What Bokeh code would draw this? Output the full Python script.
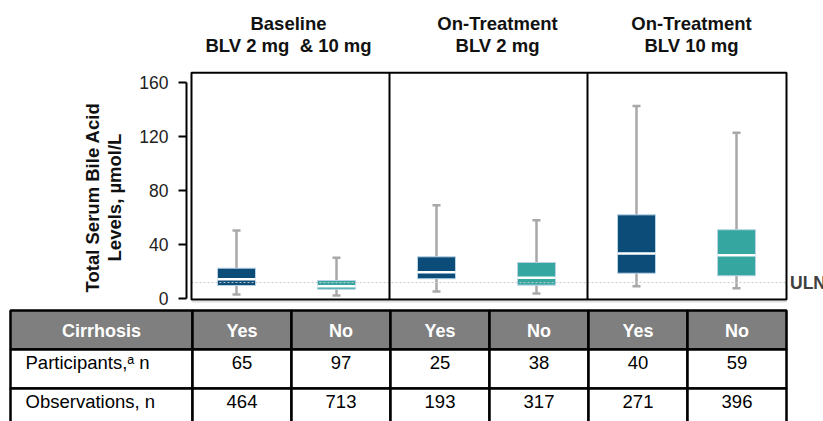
import math
from bokeh.plotting import figure
from bokeh.models import Range1d, LinearAxis, FixedTicker, ColumnDataSource
from bokeh.embed import file_html
from bokeh.resources import INLINE
from bokeh.core.properties import value

# ---------------- data ----------------
header_line1 = ["Baseline", "On-Treatment", "On-Treatment"]
header_line2 = ["BLV 2 mg\u00a0 & 10 mg", "BLV 2 mg", "BLV 10 mg"]
y_label_lines = ["Total Serum Bile Acid", "Levels, \u00b5mol/L"]
cirrhosis = ["Yes", "No", "Yes", "No", "Yes", "No"]
participants = [65, 97, 25, 38, 40, 59]
observations = [464, 713, 193, 317, 271, 396]
row_labels = ["Participants,\u1d43 n", "Observations, n"]
whisker_low = [3.2, 2.4, 5.4, 3.9, 9.3, 7.8]
q1 = [9.8, 7.1, 14.8, 10.1, 18.9, 17.0]
median = [14.5, 9.3, 19.7, 15.5, 33.5, 32.2]
q3 = [22.6, 13.5, 31.0, 26.8, 62.0, 51.0]
whisker_high = [50.4, 30.3, 69.1, 58.1, 142.3, 122.6]
uln = 12
y_ticks = [0, 40, 80, 120, 160]

# ---------------- style ----------------
FONT = "Liberation Sans"
COLOR = {"Yes": "#0b4c79", "No": "#35a7a0"}
WHISKER = "#a8a8a8"
BOX_W = 0.38
CAP_W = 0.08
panel_edges = [-0.45, 1.53, 3.51, 5.5]
panel_top = 167
panel_bottom = -0.5
header_x = [0.52, 2.61, 4.55]

x = list(range(len(cirrhosis)))
src = ColumnDataSource(dict(
    x=x,
    xl=[v - BOX_W / 2 for v in x], xr=[v + BOX_W / 2 for v in x],
    cl=[v - CAP_W / 2 for v in x], cr=[v + CAP_W / 2 for v in x],
    lo=whisker_low, q1=q1, med=median, q3=q3, hi=whisker_high,
    color=[COLOR[c] for c in cirrhosis],
))

p = figure(width=823, height=421, x_range=Range1d(-0.5, 5.87), y_range=Range1d(-2.73, 220.3),
           output_backend="svg", toolbar_location=None,
           x_axis_location=None, y_axis_location=None,
           min_border_left=186, min_border_right=0, min_border_top=0, min_border_bottom=119)
p.grid.visible = False
p.outline_line_color = None
p.background_fill_color = "white"
p.border_fill_color = "white"
# row units for the table below the chart (row r spans r..r+1, increasing downward)
p.extra_y_ranges = {"table": Range1d(-0.205, -7.949)}

yaxis = LinearAxis(ticker=FixedTicker(ticks=y_ticks), bounds=(0, 160))
yaxis.axis_line_width = 2
yaxis.axis_line_color = "black"
yaxis.major_tick_line_width = 2
yaxis.major_tick_line_color = "black"
yaxis.major_tick_out = 8
yaxis.major_tick_in = 0
yaxis.minor_tick_line_color = None
yaxis.major_label_standoff = 10
yaxis.major_label_text_font = FONT
yaxis.major_label_text_font_size = "17.5px"
yaxis.major_label_text_color = "#222222"
p.add_layout(yaxis, "left")

# y-axis title (two lines, rotated)
p.text(x=[-1.443, -1.225], y=[74.8, 74.8], text=y_label_lines, angle=math.pi / 2,
       text_align="center", text_baseline="middle", text_font=value(FONT),
       text_font_size="18.5px", text_font_style="bold", text_color="#111111", level="overlay")

# whiskers
p.segment(x0="x", y0="lo", x1="x", y1="q1", source=src, line_color=WHISKER, line_width=2.5)
p.segment(x0="x", y0="q3", x1="x", y1="hi", source=src, line_color=WHISKER, line_width=2.5)
p.segment(x0="cl", y0="hi", x1="cr", y1="hi", source=src, line_color=WHISKER, line_width=2.5)
p.segment(x0="cl", y0="lo", x1="cr", y1="lo", source=src, line_color=WHISKER, line_width=2.5)
# boxes
p.quad(left="xl", right="xr", bottom="q1", top="q3", source=src, fill_color="color",
       line_color="#b9d3e4", line_width=1)
p.segment(x0="xl", y0="med", x1="xr", y1="med", source=src, line_color="white", line_width=2.5)

# ULN reference line
p.segment(x0=[panel_edges[0]], y0=[uln], x1=[panel_edges[-1]], y1=[uln],
          line_color="#c8c8c8", line_width=1, line_dash="2 2")
p.text(x=[panel_edges[-1] + 0.035], y=[uln], text=["ULN"], text_align="left", text_baseline="middle",
       text_font=value(FONT), text_font_size="17.5px", text_font_style="bold", text_color="#404040")

# panel frames
p.quad(left=[panel_edges[0]], right=[panel_edges[-1]], bottom=[panel_bottom], top=[panel_top],
       fill_color=None, line_color="black", line_width=2)
p.segment(x0=panel_edges[1:-1], y0=[panel_bottom] * 2, x1=panel_edges[1:-1], y1=[panel_top] * 2,
          line_color="black", line_width=2)
p.segment(x0=[panel_edges[0]], y0=[-2.36], x1=[panel_edges[-1]], y1=[-2.36],
          line_color="#d4d4d4", line_width=1.5)

# panel headers
p.text(x=header_x, y=[203.4] * 3, text=header_line1, text_align="center", text_baseline="middle",
       text_font=value(FONT), text_font_size="18.5px", text_font_style="bold", text_color="#111111")
p.text(x=header_x, y=[186.7] * 3, text=header_line2, text_align="center", text_baseline="middle",
       text_font=value(FONT), text_font_size="18.5px", text_font_style="bold", text_color="#111111")

# ---------------- table ----------------
label_left, first_edge, col_w = -2.26, -0.44, 0.99
lefts = [label_left] + [first_edge + col_w * i for i in range(len(cirrhosis))]
rights = [first_edge] + [first_edge + col_w * (i + 1) for i in range(len(cirrhosis))]
centers = [(a + b) / 2 for a, b in zip(lefts, rights)]
nrows = 3
cell_l, cell_r, cell_t, cell_b, cell_f = [], [], [], [], []
for r in range(nrows):
    for a, b in zip(lefts, rights):
        cell_l.append(a); cell_r.append(b); cell_t.append(r); cell_b.append(r + 1)
        cell_f.append("#7f7f7f" if r == 0 else "white")
p.quad(left=cell_l, right=cell_r, top=cell_t, bottom=cell_b, fill_color=cell_f,
       line_color="black", line_width=2.5, y_range_name="table", level="overlay")

tkw = dict(y_range_name="table", level="overlay", text_baseline="middle", text_font=value(FONT))
p.text(x=centers, y=[0.52] * len(centers), text=["Cirrhosis"] + cirrhosis, text_align="center",
       text_font_size="18px", text_font_style="bold", text_color="white", **tkw)
p.text(x=[label_left + 0.15] * 2, y=[1.33, 2.33], text=row_labels, text_align="left",
       text_font_size="18.5px", text_color="black", **tkw)
p.text(x=centers[1:], y=[1.33] * len(participants), text=[str(v) for v in participants],
       text_align="center", text_font_size="18.5px", text_color="black", **tkw)
p.text(x=centers[1:], y=[2.33] * len(observations), text=[str(v) for v in observations],
       text_align="center", text_font_size="18.5px", text_color="black", **tkw)

open("out.html", "w").write(file_html(p, INLINE))
